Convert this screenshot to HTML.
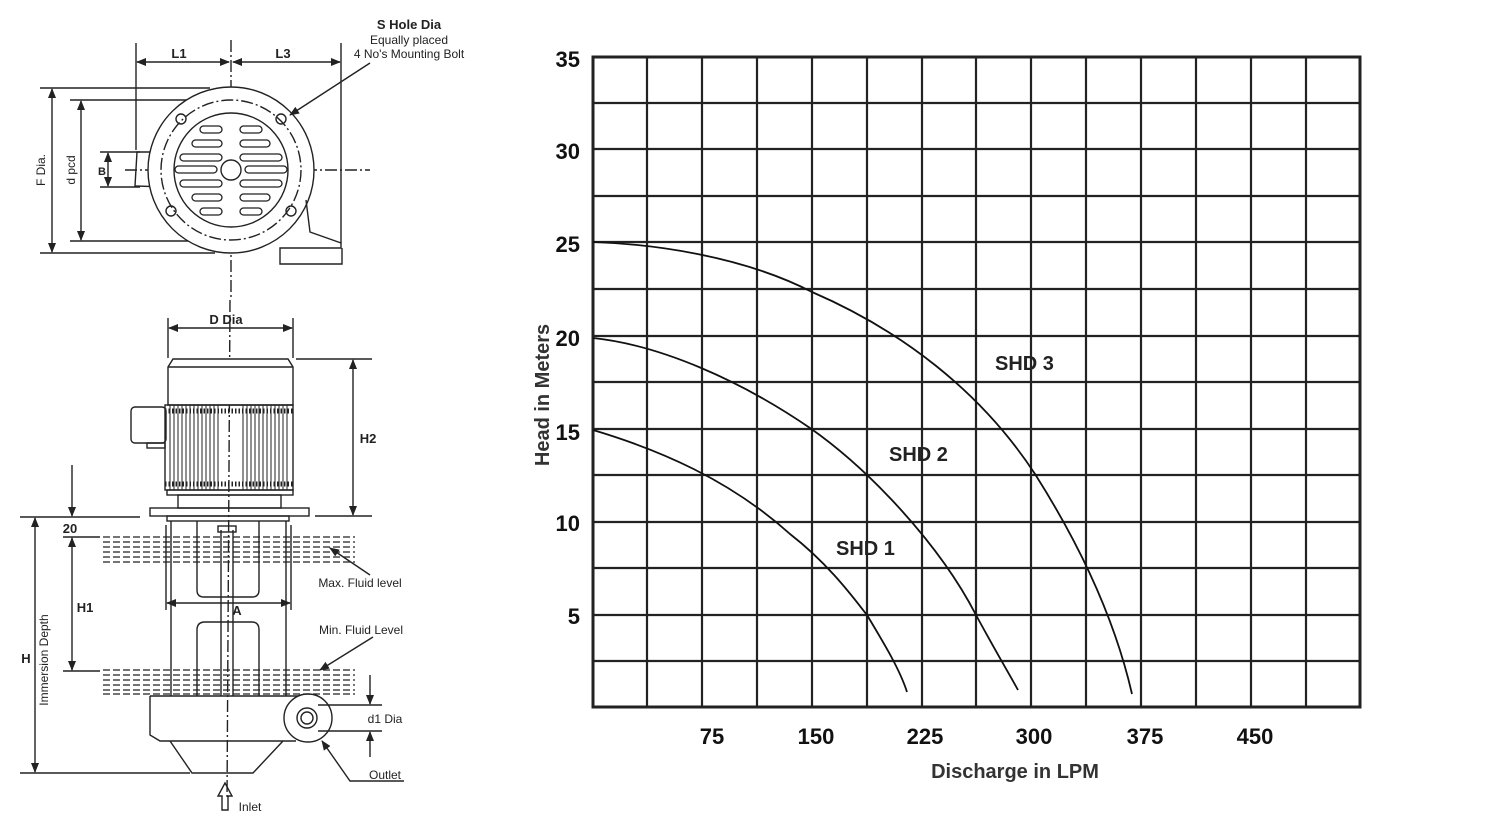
<!DOCTYPE html>
<html><head><meta charset="utf-8"><style>
html,body{margin:0;padding:0;background:#fff;}
svg{display:block;}
.t{font-family:"Liberation Sans",sans-serif;}
.n{font-family:"Liberation Sans Narrow","Liberation Sans",sans-serif;font-weight:bold;font-size:22px;fill:#111;}
</style></head><body>
<svg width="1500" height="826" viewBox="0 0 1500 826" xmlns="http://www.w3.org/2000/svg">
<defs><marker id="a" markerWidth="10" markerHeight="8" refX="9" refY="4" orient="auto-start-reverse" markerUnits="userSpaceOnUse"><path d="M0,0 L10,4 L0,8z" fill="#222"/></marker></defs>
<!-- ===== Drawing: top view ===== -->
<g stroke="#222" fill="none" stroke-width="1.4">
<line x1="231" y1="40" x2="231" y2="300" stroke-dasharray="12,3,2,3"/>
<line x1="125" y1="170" x2="370" y2="170" stroke-dasharray="12,3,2,3"/>
<line x1="136" y1="43" x2="136" y2="150"/><line x1="341" y1="43" x2="341" y2="243"/>
<line x1="137" y1="62" x2="229" y2="62" marker-start="url(#a)" marker-end="url(#a)"/>
<line x1="233" y1="62" x2="340" y2="62" marker-start="url(#a)" marker-end="url(#a)"/>
<line x1="40" y1="88" x2="210" y2="88"/><line x1="40" y1="253" x2="215" y2="253"/>
<line x1="70" y1="100" x2="205" y2="100"/><line x1="70" y1="241" x2="215" y2="241"/>
<line x1="52" y1="89" x2="52" y2="252" marker-start="url(#a)" marker-end="url(#a)"/>
<line x1="81" y1="101" x2="81" y2="240" marker-start="url(#a)" marker-end="url(#a)"/>
<line x1="100" y1="152" x2="140" y2="152"/><line x1="100" y1="187" x2="140" y2="187"/>
<line x1="108" y1="153" x2="108" y2="186" marker-start="url(#a)" marker-end="url(#a)"/>
<path d="M165,152 L137,152 L135,186 L165,187"/>
<circle cx="231" cy="170" r="83" fill="#fff"/>
<circle cx="231" cy="170" r="70" stroke-dasharray="12,3,2,3"/>
<circle cx="231" cy="170" r="57"/>
<circle cx="231" cy="170" r="10"/>
<circle cx="181" cy="119" r="5"/><circle cx="281" cy="119" r="5"/><circle cx="171" cy="211" r="5"/><circle cx="291" cy="211" r="5"/>
<path d="M306,200 L310,232 L341,243 L341,248 L280,248 L280,264 L342,264 L342,248"/>
<g stroke-width="1.3">
<rect x="200" y="126" width="22" height="7" rx="3.5"/><rect x="240" y="126" width="22" height="7" rx="3.5"/>
<rect x="192" y="140" width="30" height="7" rx="3.5"/><rect x="240" y="140" width="30" height="7" rx="3.5"/>
<rect x="180" y="154" width="42" height="7" rx="3.5"/><rect x="240" y="154" width="42" height="7" rx="3.5"/>
<rect x="175" y="166" width="42" height="7" rx="3.5"/><rect x="245" y="166" width="42" height="7" rx="3.5"/>
<rect x="180" y="180" width="42" height="7" rx="3.5"/><rect x="240" y="180" width="42" height="7" rx="3.5"/>
<rect x="192" y="194" width="30" height="7" rx="3.5"/><rect x="240" y="194" width="30" height="7" rx="3.5"/>
<rect x="200" y="208" width="22" height="7" rx="3.5"/><rect x="240" y="208" width="22" height="7" rx="3.5"/>
</g>
<line x1="370" y1="63" x2="290" y2="115" marker-end="url(#a)"/>
</g>
<g class="t" fill="#222" font-weight="bold">
<text x="179" y="58" font-size="13" text-anchor="middle">L1</text>
<text x="283" y="58" font-size="13" text-anchor="middle">L3</text>
<text x="409" y="29" font-size="13" text-anchor="middle">S Hole Dia</text>
<text x="409" y="44" font-size="12" text-anchor="middle" font-weight="normal">Equally placed</text>
<text x="409" y="58" font-size="12" text-anchor="middle" font-weight="normal">4 No's Mounting Bolt</text>
<text transform="translate(45,170) rotate(-90)" font-size="12" text-anchor="middle" font-weight="normal">F Dia.</text>
<text transform="translate(75,170) rotate(-90)" font-size="12" text-anchor="middle" font-weight="normal">d pcd</text>
<text x="102" y="175" font-size="11" text-anchor="middle">B</text>
</g>
<!-- ===== Drawing: side view ===== -->
<g stroke="#222" fill="none" stroke-width="1.4">
<line x1="230" y1="300" x2="227" y2="800" stroke-dasharray="12,3,2,3"/>
<line x1="168" y1="318" x2="168" y2="358"/><line x1="293" y1="318" x2="293" y2="358"/>
<line x1="169" y1="328" x2="292" y2="328" marker-start="url(#a)" marker-end="url(#a)"/>
<path d="M168,405 L168,367 L173,359 L288,359 L293,367 L293,405 Z" fill="#fff"/>
<line x1="168" y1="367" x2="293" y2="367"/>
<rect x="165" y="405" width="128" height="85"/>
<rect x="131" y="407" width="35" height="36" rx="4"/>
<rect x="147" y="443" width="18" height="5"/>
<g stroke-width="1"><path d="M170,405 V490 M174,405 V490 M178,405 V490 M182,405 V490 M186,405 V490 M190,405 V490 M194,405 V490 M198,405 V490 M202,405 V490 M206,405 V490 M210,405 V490 M214,405 V490 M218,405 V490 M243,405 V490 M247,405 V490 M251,405 V490 M255,405 V490 M259,405 V490 M263,405 V490 M267,405 V490 M271,405 V490 M275,405 V490 M279,405 V490 M283,405 V490 M287,405 V490"/>
<path d="M165,411 H293 M165,484 H293" stroke-width="5" stroke-dasharray="1.5,2"/></g>
<rect x="167" y="490" width="126" height="5"/>
<rect x="178" y="495" width="103" height="13"/>
<rect x="150" y="508" width="159" height="8"/>
<rect x="167" y="516" width="122" height="5"/>
<line x1="171" y1="521" x2="171" y2="696"/><line x1="286" y1="521" x2="286" y2="696"/>
<line x1="166" y1="525" x2="166" y2="610"/><line x1="291" y1="525" x2="291" y2="610"/>
<path d="M197,521 V590 Q197,597 204,597 H252 Q259,597 259,590 V521"/>
<path d="M197,696 V630 Q197,622 205,622 H252 Q259,622 259,630 V696"/>
<line x1="221" y1="530" x2="221" y2="696"/><line x1="233" y1="530" x2="233" y2="696"/>
<rect x="218" y="526" width="18" height="6"/>
<line x1="167" y1="603" x2="290" y2="603" marker-start="url(#a)" marker-end="url(#a)"/>
<path d="M150,696 H300 M150,696 V735 L160,741 H296 M170,741 L192,773 H253 L283,741"/>
<circle cx="308" cy="718" r="24" fill="#fff"/><circle cx="307" cy="718" r="10"/><circle cx="307" cy="718" r="6"/>
<line x1="296" y1="359" x2="372" y2="359"/><line x1="315" y1="516" x2="372" y2="516"/>
<line x1="353" y1="360" x2="353" y2="515" marker-start="url(#a)" marker-end="url(#a)"/>
<line x1="20" y1="517" x2="140" y2="517"/><line x1="20" y1="773" x2="190" y2="773"/>
<line x1="35" y1="518" x2="35" y2="772" marker-start="url(#a)" marker-end="url(#a)"/>
<line x1="72" y1="465" x2="72" y2="516" marker-end="url(#a)"/>
<line x1="63" y1="537" x2="100" y2="537"/><line x1="63" y1="671" x2="100" y2="671"/>
<line x1="72" y1="538" x2="72" y2="670" marker-start="url(#a)" marker-end="url(#a)"/>
<g stroke-width="1.2" stroke-dasharray="7,3">
<path d="M103,537 H355 M103,542 H355 M103,547 H355 M103,552 H355 M103,557 H355 M103,562 H355"/>
<path d="M103,670 H355 M103,675 H355 M103,680 H355 M103,685 H355 M103,690 H355 M103,694 H355"/>
</g>
<line x1="370" y1="575" x2="330" y2="548" marker-end="url(#a)"/>
<line x1="373" y1="637" x2="320" y2="670" marker-end="url(#a)"/>
<line x1="318" y1="705" x2="382" y2="705"/><line x1="318" y1="731" x2="382" y2="731"/>
<line x1="370" y1="675" x2="370" y2="704" marker-end="url(#a)"/>
<line x1="370" y1="757" x2="370" y2="732" marker-end="url(#a)"/>
<path d="M404,781 H350 L322,741" marker-end="url(#a)"/>
<path d="M222,810 V796 H218 L225,783 L232,796 H228 V810 Z"/>
</g>
<g class="t" fill="#222">
<text x="226" y="324" font-size="13" text-anchor="middle" font-weight="bold">D Dia</text>
<text x="368" y="443" font-size="13" text-anchor="middle" font-weight="bold">H2</text>
<text x="70" y="533" font-size="13" text-anchor="middle" font-weight="bold">20</text>
<text x="85" y="612" font-size="13" text-anchor="middle" font-weight="bold">H1</text>
<text x="26" y="663" font-size="13" text-anchor="middle" font-weight="bold">H</text>
<text transform="translate(48,660) rotate(-90)" font-size="12" text-anchor="middle">Immersion Depth</text>
<text x="237" y="615" font-size="13" text-anchor="middle" font-weight="bold">A</text>
<text x="360" y="587" font-size="12" text-anchor="middle">Max. Fluid level</text>
<text x="361" y="634" font-size="12" text-anchor="middle">Min. Fluid Level</text>
<text x="385" y="723" font-size="12" text-anchor="middle">d1 Dia</text>
<text x="385" y="779" font-size="12" text-anchor="middle">Outlet</text>
<text x="250" y="811" font-size="12" text-anchor="middle">Inlet</text>
</g>
<!-- ===== Chart ===== -->
<g stroke="#222" stroke-width="2.2" fill="none">
<path d="M647,57V707 M702,57V707 M757,57V707 M812,57V707 M867,57V707 M922,57V707 M976,57V707 M1031,57V707 M1086,57V707 M1141,57V707 M1196,57V707 M1251,57V707 M1306,57V707"/>
<path d="M593,103H1360 M593,149H1360 M593,196H1360 M593,242H1360 M593,289H1360 M593,336H1360 M593,382H1360 M593,429H1360 M593,475H1360 M593,522H1360 M593,568H1360 M593,615H1360 M593,661H1360"/>
<rect x="593" y="57" width="767" height="650" stroke-width="3"/>
</g>
<g stroke="#111" stroke-width="1.8" fill="none" stroke-linejoin="round">
<path d="M593,242 C650,244 740,255 812,292 C900,330 980,390 1035,474 C1080,545 1115,620 1132,694"/>
<path d="M593,338 C660,345 740,380 810,428 C870,470 940,545 976,615 C995,650 1008,672 1018,690"/>
<path d="M593,430 C660,450 730,480 790,534 C830,565 855,600 867,615 C885,645 900,670 907,692"/>
</g>
<g class="t" font-weight="bold" font-size="20" fill="#222">
<text x="995" y="370">SHD 3</text>
<text x="889" y="461">SHD 2</text>
<text x="836" y="555">SHD 1</text>
</g>
<g class="n" text-anchor="end">
<text x="580" y="67">35</text><text x="580" y="159">30</text><text x="580" y="252">25</text>
<text x="580" y="346">20</text><text x="580" y="440">15</text><text x="580" y="531">10</text><text x="580" y="624">5</text>
</g>
<g class="n" text-anchor="middle">
<text x="712" y="744">75</text><text x="816" y="744">150</text><text x="925" y="744">225</text>
<text x="1034" y="744">300</text><text x="1145" y="744">375</text><text x="1255" y="744">450</text>
</g>
<text class="t" x="1015" y="778" font-size="20" font-weight="bold" fill="#333" text-anchor="middle">Discharge in LPM</text>
<text class="t" transform="translate(549,395) rotate(-90)" font-size="20" font-weight="bold" fill="#333" text-anchor="middle">Head in Meters</text>
</svg>
</body></html>
